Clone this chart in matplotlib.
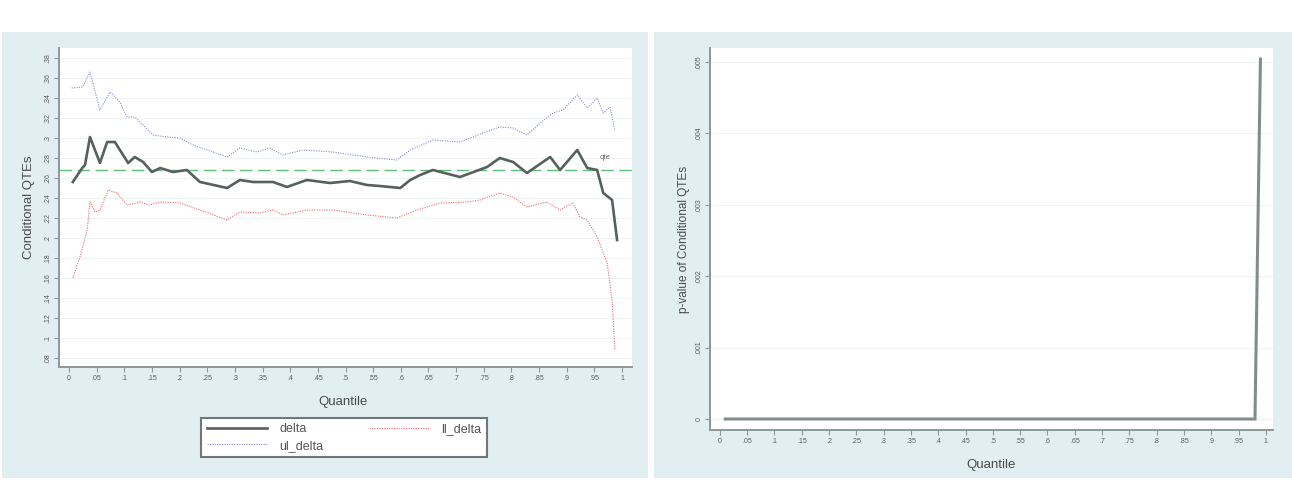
import matplotlib
matplotlib.use('AGG')
import matplotlib.pyplot as plt
from matplotlib.patches import Rectangle

plt.rcParams['font.family'] = ['Liberation Sans', 'DejaVu Sans']

# ---- data ----
q_delta = [.007, .024, .029, .038, .056, .069, .083, .107, .119, .134, .150, .165,
           .188, .213, .237, .286, .309, .333, .369, .394, .430, .472, .508, .539,
           .562, .599, .617, .635, .658, .707, .756, .779, .803, .828, .870, .888,
           .919, .937, .955, .966, .982, .991]
delta = [.256, .270, .273, .301, .275, .296, .296, .275, .281, .276, .266, .270,
         .266, .268, .256, .250, .258, .256, .256, .251, .258, .255, .257, .253,
         .252, .250, .258, .263, .268, .261, .271, .280, .276, .265, .281, .268,
         .288, .270, .268, .245, .238, .198]

q_ul = [.005, .025, .038, .056, .074, .092, .105, .119, .134, .152, .177, .201,
        .224, .250, .286, .309, .340, .363, .387, .423, .477, .539, .593, .617,
        .658, .707, .749, .779, .803, .828, .852, .875, .893, .919, .937, .955,
        .966, .978, .987]
ul_delta = [.350, .351, .366, .328, .346, .336, .321, .321, .313, .303, .301, .300,
            .293, .288, .281, .290, .286, .290, .283, .288, .286, .281, .278, .288,
            .298, .296, .305, .311, .310, .303, .315, .325, .328, .343, .330, .340,
            .325, .331, .308]

q_ll = [.007, .020, .033, .038, .047, .056, .071, .087, .105, .128, .146, .165,
        .201, .237, .286, .309, .345, .369, .387, .430, .477, .539, .593, .629,
        .671, .720, .743, .779, .803, .828, .864, .888, .911, .924, .937, .955,
        .973, .982, .987]
ll_delta = [.160, .181, .208, .236, .226, .228, .248, .245, .233, .236, .233, .236,
            .235, .228, .218, .226, .225, .228, .223, .228, .228, .223, .220, .228,
            .235, .236, .238, .245, .241, .231, .236, .228, .235, .221, .218, .201,
            .175, .138, .088]

qte = .268

q_pval = [.01, .98, .99]
pval = [0.0, 0.0, .00504]

x_ticks = [0, .05, .1, .15, .2, .25, .3, .35, .4, .45, .5, .55, .6, .65, .7, .75,
           .8, .85, .9, .95, 1]
x_labels = ['0', '.05', '.1', '.15', '.2', '.25', '.3', '.35', '.4', '.45', '.5',
            '.55', '.6', '.65', '.7', '.75', '.8', '.85', '.9', '.95', '1']
y_ticks_l = [.08, .1, .12, .14, .16, .18, .2, .22, .24, .26, .28, .3, .32, .34, .36, .38]
y_labels_l = ['.08', '.1', '.12', '.14', '.16', '.18', '.2', '.22', '.24', '.26',
              '.28', '.3', '.32', '.34', '.36', '.38']
y_ticks_r = [0, .001, .002, .003, .004, .005]
y_labels_r = ['0', '.001', '.002', '.003', '.004', '.005']

BG = '#e2eff2'
AXC = '#8c9898'
TXT = '#5a5a5a'

W, H = 1292, 480
fig = plt.figure(figsize=(12.92, 4.8), dpi=100)
fig.patch.set_facecolor('white')

# panel backgrounds (pixel boxes -> figure fraction)
def box(x0, y0, x1, y1):
    return (x0 / W, 1 - y1 / H, (x1 - x0) / W, (y1 - y0) / H)

for (x0, y0, x1, y1) in [(2, 32, 648, 478), (654, 32, 1292, 478)]:
    l, b, w, h = box(x0, y0, x1, y1)
    fig.patches.append(Rectangle((l, b), w, h, transform=fig.transFigure,
                                 facecolor=BG, edgecolor='none', zorder=-10))

def style(ax, yt, yl):
    ax.set_facecolor('white')
    for s in ['top', 'right']:
        ax.spines[s].set_visible(False)
    for s in ['left', 'bottom']:
        ax.spines[s].set_color(AXC)
        ax.spines[s].set_linewidth(1.4)
    ax.set_xticks(x_ticks)
    ax.set_xticklabels(x_labels)
    ax.set_yticks(yt)
    ax.set_yticklabels(yl, rotation=90, va='center')
    ax.tick_params(axis='both', length=3.5, width=0.8, color=AXC,
                   labelsize=5, labelcolor=TXT, pad=2)
    ax.grid(axis='y', color='#eef4f4', linewidth=0.8)
    ax.set_axisbelow(True)

# ---- left panel ----
ax1 = fig.add_axes(box(59, 48, 632, 367))
style(ax1, y_ticks_l, y_labels_l)
ax1.set_xlim(-0.018, 1.018)
ax1.set_ylim(.071, .39)
ax1.axhline(qte, color='#5cbf7a', linewidth=1.0, dashes=(9, 4), zorder=2)
ax1.text(.969, .280, 'qte', fontsize=5.5, color='#707070', ha='center', va='center')
l1, = ax1.plot(q_delta, delta, color='#56605c', linewidth=1.9, label='delta', zorder=4)
l2, = ax1.plot(q_ul, ul_delta, color='#8a8ad0', linewidth=0.8, linestyle=(0, (1, 1.2)),
               label='ul_delta', zorder=3)
l3, = ax1.plot(q_ll, ll_delta, color='#ee6a6a', linewidth=0.8, linestyle=(0, (1, 1.2)),
               label='ll_delta', zorder=3)
ax1.set_ylabel('Conditional QTEs', fontsize=9.5, color='#4a4a4a')
ax1.yaxis.set_label_coords(-0.042, 0.5)
ax1.set_xlabel('Quantile', fontsize=9.5, color='#4a4a4a')
ax1.xaxis.set_label_coords(0.496, -0.091)

leg = fig.legend(handles=[l1, l2, l3], labels=['delta', 'ul_delta', 'll_delta'],
                 ncol=2, loc='center', bbox_to_anchor=(344 / W, 1 - 437.5 / H),
                 fontsize=9, frameon=True, fancybox=False, handlelength=4.8,
                 columnspacing=3.6, handletextpad=1.0, labelspacing=0.35,
                 borderpad=0.45, labelcolor='#555555')
leg.get_frame().set_edgecolor('#6f7878')
leg.get_frame().set_linewidth(1.5)
leg.get_frame().set_facecolor('white')
leg.get_frame().set_alpha(1)

# ---- right panel ----
ax2 = fig.add_axes(box(710, 48, 1273, 430))
style(ax2, y_ticks_r, y_labels_r)
ax2.set_xlim(-0.018, 1.013)
ax2.set_ylim(-0.000154, .005196)
ax2.plot(q_pval, pval, color='#838c8c', linewidth=2.2, solid_joinstyle='miter')
ax2.set_ylabel('p-value of Conditional QTEs', fontsize=8.5, color='#4a4a4a')
ax2.yaxis.set_label_coords(-0.0355, 0.5)
ax2.set_xlabel('Quantile', fontsize=9.5, color='#4a4a4a')
ax2.xaxis.set_label_coords(0.5, -0.075)

plt.savefig('out.png', dpi=100, facecolor='white')
